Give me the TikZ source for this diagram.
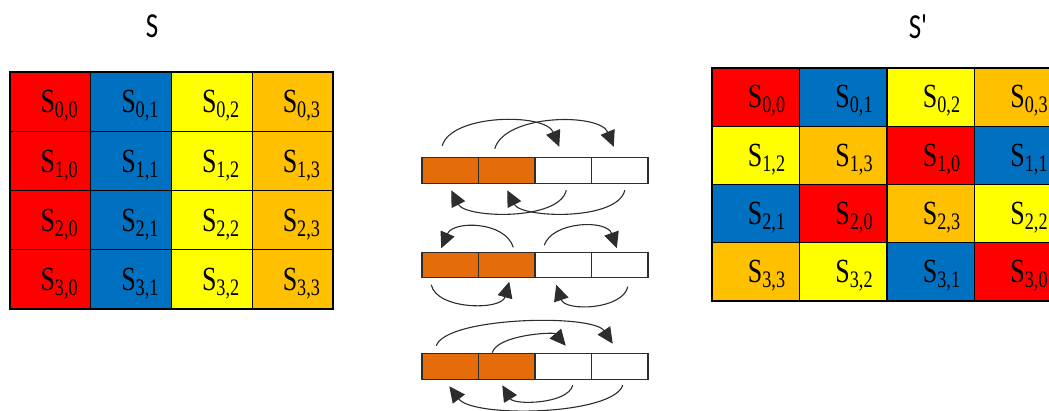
\documentclass[tikz,border=0pt]{standalone}
\usepackage{graphicx}
\usepackage{fontspec}
\setmainfont{Liberation Serif}
\newfontfamily\titlefont{Carlito}
\usetikzlibrary{arrows.meta,calc}
\definecolor{col0}{RGB}{255,0,0}
\definecolor{col1}{RGB}{0,112,192}
\definecolor{col2}{RGB}{255,255,0}
\definecolor{col3}{RGB}{255,192,0}
\definecolor{aorange}{RGB}{228,108,10}
\definecolor{arrgray}{RGB}{45,45,45}
\tikzset{
  gridcell/.style={draw=black,line width=1.2pt,inner sep=0pt,outer sep=0pt},
  celltext/.style={anchor=base,inner sep=0pt,font=\fontsize{26}{30}\selectfont},
  arraycell/.style={draw=arrgray,line width=1.1pt,inner sep=0pt,outer sep=0pt,minimum width=56.5pt,minimum height=25.5pt},
  titletext/.style={inner sep=0pt,font=\titlefont\fontsize{27}{30}\selectfont},
  bigtip/.tip={Triangle[length=16pt,width=15pt]},
  arr/.style={draw=arrgray,line width=1.1pt,-bigtip}
}
\begin{document}
\begin{tikzpicture}[x=1pt,y=-1pt]
\useasboundingbox (0,0) rectangle (1049,411);
\clip (0,0) rectangle (1049,411);
\fill[white] (0,0) rectangle (1049,411);

% titles
\node[titletext] (tS) at (152,26) {\scalebox{1}[1.3]{S}};
\node[titletext] (tSp) at (918,27) {\scalebox{1}[1.3]{S\textquotesingle}};

% left grid
\foreach \r in {0,...,3}{
  \foreach \c in {0,...,3}{
    \node[gridcell,minimum width=80.75pt,minimum height=59.25pt,fill=col\c]
      (L-\r-\c) at ({10+80.75*(\c+0.5)},{72+59.25*(\r+0.5)}) {};
    \node[celltext] (LT-\r-\c) at ($(L-\r-\c.north)+(9,41)$)
      {\scalebox{1}[1.3]{S\textsubscript{\r,\c}}};
  }
}

% right grid
\foreach \r/\a/\b/\cc/\d in {0/0/1/2/3,1/2/3/0/1,2/1/0/3/2,3/3/2/1/0}{
  \foreach \c/\k in {0/\a,1/\b,2/\cc,3/\d}{
    \node[gridcell,minimum width=87.5pt,minimum height=58.25pt,fill=col\k]
      (R-\r-\c) at ({712+87.5*(\c+0.5)},{68+58.25*(\r+0.5)}) {};
    \node[celltext] (RT-\r-\c) at ($(R-\r-\c.north)+(11,40)$)
      {\scalebox{1}[1.3]{S\textsubscript{\r,\k}}};
  }
}

% arrays
\foreach \n/\y in {1/170.5,2/265,3/366.5}{
  \foreach \c/\f in {0/aorange,1/aorange,2/white,3/white}{
    \node[arraycell,fill=\f] (A\n-\c) at ({422+56.5*(\c+0.5)},\y) {};
  }
}

% row 1 arrows
\draw[arr] ($(A1-0.north)+(-8,-12)$) .. controls +(9,-32) and +(-14,-34) .. ($(A1-2.north)+(-4,-11)$);
\draw[arr] ($(A1-1.north)+(-12,-9)$) .. controls +(10,-35) and +(-14,-34) .. ($(A1-3.north)+(-6,-11)$);
\draw[arr] ($(A1-2.south)+(3,7)$) .. controls +(-7,31) and +(14,28) .. ($(A1-0.south)+(1,7)$);
\draw[arr] ($(A1-3.south)+(5,7)$) .. controls +(-7,31) and +(14,28) .. ($(A1-1.south)+(0.5,7)$);

% row 2 arrows
\draw[arr] ($(A2-1.north)+(6.5,-5)$) .. controls +(-8,-26) and +(12,-28) .. ($(A2-0.north)+(-9,-4)$);
\draw[arr] ($(A2-2.north)+(-19,-7)$) .. controls +(8,-24) and +(-10,-29) .. ($(A2-3.north)+(-3,-4)$);
\draw[arr] ($(A2-0.south)+(-19,7)$) .. controls +(5,25) and +(-8,29) .. ($(A2-1.south)+(2.5,4)$);
\draw[arr] ($(A2-3.south)+(8,9)$) .. controls +(-5,23) and +(9,27) .. ($(A2-2.south)+(-7,7)$);

% row 3 arrows
\draw[arr] ($(A3-0.north)+(-14,-8)$) .. controls +(10,-29) and +(-20,-30) .. ($(A3-3.north)+(-7,-10)$);
\draw[arr] ($(A3-1.north)+(-14.5,-1)$) .. controls +(5,-18) and +(-12,-14) .. ($(A3-2.north)+(2.5,-8)$);
\draw[arr] ($(A3-2.south)+(9.5,6)$) .. controls +(-5,19) and +(12,20) .. ($(A3-1.south)+(-4.5,6)$);
\draw[arr] ($(A3-3.south)+(3,6)$) .. controls +(-10,30) and +(24,32) .. ($(A3-0.south)+(-1,7)$);
\end{tikzpicture}
\end{document}
